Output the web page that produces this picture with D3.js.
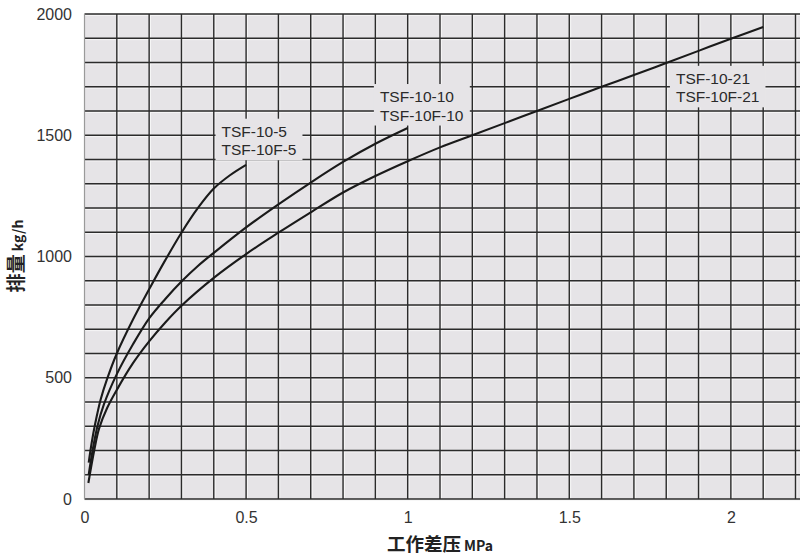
<!DOCTYPE html>
<html>
<head>
<meta charset="utf-8">
<script src="https://cdn.jsdelivr.net/npm/d3@7"></script>
<style>
  body { margin: 0; background: #fff; }
  .tick text { font-family: "Liberation Sans", Arial, sans-serif; font-size: 16px; fill: #333; }
  .label { font-family: "Liberation Sans", Arial, sans-serif; font-size: 15.5px; fill: #2a2a2a; }
  .title { font-family: "Noto Sans CJK SC", sans-serif; font-weight: bold; fill: #222; }
</style>
</head>
<body>
<div id="chart"></div>
<script>
// pressure difference (MPa) vs discharge (kg/h)
const series5 = [[0.013,150],[0.022,230],[0.033,310],[0.05,410],[0.07,495],[0.1,600],[0.15,740],[0.2,865],[0.25,985],[0.3,1098],[0.35,1198],[0.4,1280],[0.45,1335],[0.5,1378]];
const series10 = [[0.013,100],[0.025,200],[0.04,300],[0.06,390],[0.1,515],[0.15,638],[0.2,745],[0.25,825],[0.3,897],[0.35,960],[0.4,1015],[0.5,1120],[0.6,1215],[0.7,1305],[0.8,1390],[0.9,1465],[1.0,1530]];
const series21 = [[0.012,66],[0.03,200],[0.045,290],[0.07,375],[0.1,450],[0.15,560],[0.2,650],[0.25,728],[0.3,797],[0.4,912],[0.5,1010],[0.6,1098],[0.7,1182],[0.8,1264],[0.9,1332],[1.0,1393],[1.1,1450],[1.2,1500],[1.3,1550],[1.4,1600],[1.5,1650],[1.6,1700],[1.7,1748],[1.8,1798],[1.9,1848],[2.0,1898],[2.1,1946]];

const xTicks = [0, 0.5, 1, 1.5, 2];
const yTicks = [0, 500, 1000, 1500, 2000];

// label text lines and where they sit (data units: left edge, first baseline)
const labels = [
  { lines: ['TSF-10-5', 'TSF-10F-5'], x: 0.424, y: 1494 },
  { lines: ['TSF-10-10', 'TSF-10F-10'], x: 0.914, y: 1637 },
  { lines: ['TSF-10-21', 'TSF-10F-21'], x: 1.83, y: 1712 }
];

const W = 800, H = 556;
const svg = d3.select('#chart').append('svg')
  .attr('width', W)
  .attr('height', H);

const x = d3.scaleLinear().domain([0, 2.2]).range([84.5, 795.5]);
const y = d3.scaleLinear().domain([0, 2000]).range([499, 14]);

// plot background
svg.append('rect')
  .attr('x', x(0)).attr('y', y(2000))
  .attr('width', W - x(0)).attr('height', y(0) - y(2000))
  .attr('fill', '#e6e4e7');

// grid lines every 0.1 MPa and 100 kg/h
const xGrid = d3.range(1, 23).map(d => d / 10);
const yGrid = d3.range(0, 21).map(d => d * 100);

const grid = svg.append('g');
grid.selectAll('.hl').data(yGrid).enter().append('line')
  .attr('x1', x(0)).attr('x2', W)
  .attr('y1', d => y(d) + 1.4).attr('y2', d => y(d) + 1.4)
  .attr('stroke', '#f6f6f6').attr('stroke-width', 1);
grid.selectAll('.vl').data(xGrid).enter().append('line')
  .attr('x1', d => x(d) + 1.4).attr('x2', d => x(d) + 1.4)
  .attr('y1', y(2000)).attr('y2', y(0))
  .attr('stroke', '#f6f6f6').attr('stroke-width', 1);
grid.selectAll('.h').data(yGrid).enter().append('line')
  .attr('x1', x(0)).attr('x2', W)
  .attr('y1', d => y(d)).attr('y2', d => y(d))
  .attr('stroke', '#2b2b2b').attr('stroke-width', 1.4);
grid.selectAll('.v').data(xGrid).enter().append('line')
  .attr('x1', d => x(d)).attr('x2', d => x(d))
  .attr('y1', y(2000)).attr('y2', y(0))
  .attr('stroke', '#2b2b2b').attr('stroke-width', 1.4);

// left edge is a soft gray line
svg.append('line')
  .attr('x1', x(0)).attr('x2', x(0))
  .attr('y1', y(2000)).attr('y2', y(0))
  .attr('stroke', '#9a9a9a').attr('stroke-width', 1.2);

// curves
const line = d3.line()
  .x(d => x(d[0]))
  .y(d => y(d[1]))
  .curve(d3.curveCatmullRom.alpha(0.5));

svg.selectAll('.curve')
  .data([series5, series10, series21])
  .enter()
  .append('path')
  .attr('d', line)
  .attr('fill', 'none')
  .attr('stroke', '#1a1a1a')
  .attr('stroke-width', 2.1);

// labels with a background box that hides the grid
labels.forEach(l => {
  const g = svg.append('g');
  const box = g.append('rect').attr('fill', '#e6e4e7');
  const t = g.append('text')
    .attr('class', 'label')
    .attr('x', x(l.x))
    .attr('y', y(l.y));
  l.lines.forEach((s, i) => {
    t.append('tspan')
      .attr('x', x(l.x))
      .attr('dy', i === 0 ? 0 : 18.5)
      .text(s);
  });
  const bb = t.node().getBBox();
  box.attr('x', bb.x - 6).attr('y', bb.y - 4)
    .attr('width', bb.width + 12).attr('height', bb.height + 6);
});

// axes
svg.append('g')
  .attr('transform', 'translate(0,' + 517 + ')')
  .call(d3.axisBottom(x).tickValues(xTicks).tickSize(0).tickFormat(d3.format('')))
  .call(g => g.select('.domain').remove())
  .selectAll('.tick text')
  .attr('dy', '0.35em')
  .attr('y', 0);

svg.append('g')
  .attr('transform', 'translate(' + 72 + ',0)')
  .call(d3.axisLeft(y).tickValues(yTicks).tickSize(0).tickFormat(d3.format('d')))
  .call(g => g.select('.domain').remove())
  .selectAll('.tick text')
  .attr('x', 0);

// axis titles
const xt = svg.append('text')
  .attr('class', 'title')
  .attr('x', 440)
  .attr('y', 551)
  .attr('text-anchor', 'middle');
xt.append('tspan').attr('font-size', '18.5px').text('工作差压');
xt.append('tspan').attr('font-size', '14px').text(' MPa');

const yt = svg.append('text')
  .attr('class', 'title')
  .attr('transform', 'translate(23,256) rotate(-90)')
  .attr('text-anchor', 'middle');
yt.append('tspan').attr('font-size', '19px').text('排量');
yt.append('tspan').attr('font-size', '14px').text(' kg/h');
</script>
</body>
</html>
